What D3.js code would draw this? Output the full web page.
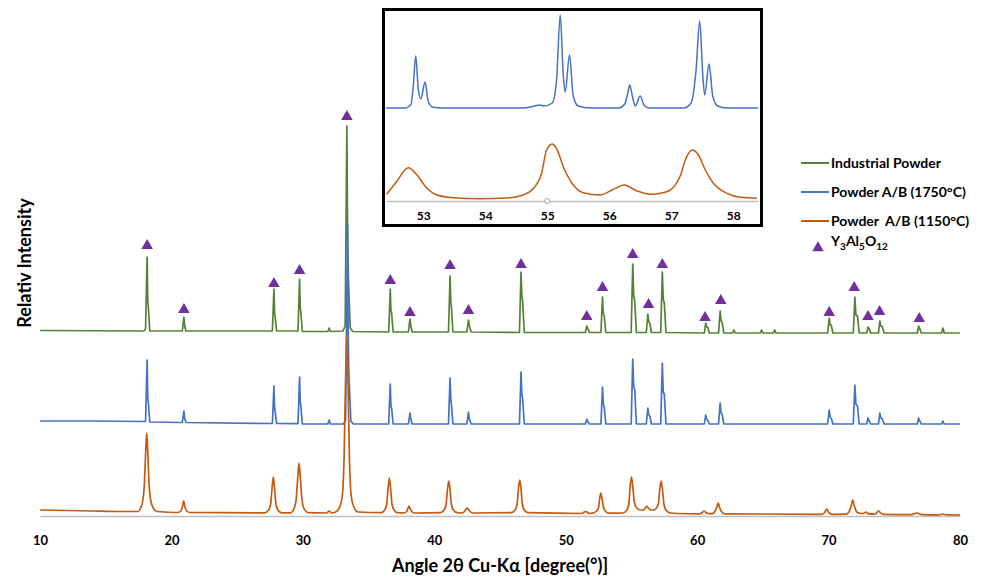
<!DOCTYPE html>
<html><head><meta charset="utf-8">
<script src="https://cdn.jsdelivr.net/npm/d3@7"></script>
<style>
body{margin:0;background:#fff;}
svg{display:block;font-family:Lato,"Open Sans",sans-serif;}
</style></head><body>
<svg id="c" width="989" height="581"></svg>
<script>
// ---------- data (2θ in degrees, relative intensity in arbitrary units) ----------
const xTickValues = [10, 20, 30, 40, 50, 60, 70, 80];
const insetTickValues = [53, 54, 55, 56, 57, 58];
const seriesNames = ["Industrial Powder", "Powder A/B (1750°C)", "Powder  A/B (1150°C)"];
const seriesColors = ["#548235", "#4472C4", "#C55A11"];
const seriesOffsets = [185, 92, 0];
const phaseName = ["Y", "3", "Al", "5", "O", "12"];
const phaseColor = "#7030A0";

const industrialPowder = [
 [10,0.5],[17.9,0],[18.03,2],[18.15,74],[18.2,30],[18.24,25],[18.35,0],
 [20.83,0],[20.95,14],[21.0,6],[21.1,0],
 [27.68,0],[27.8,42],[27.85,18],[27.88,16],[28.0,0],
 [29.63,0],[29.75,52],[29.8,22],[29.84,20],[29.96,-0.5],
 [31.9,-0.5],[32.0,3],[32.1,-0.5],
 [33.05,0],[33.22,5],[33.35,205],[33.4,100],[33.45,60],[33.6,3],[33.8,-0.5],
 [36.53,-1],[36.65,42],[36.7,20],[36.75,18],[36.87,-1],
 [38.03,-1],[38.15,12],[38.22,5],[38.32,-1],
 [41.08,-1],[41.2,55],[41.26,28],[41.3,25],[41.42,-1],
 [42.48,-1],[42.6,11],[42.67,5],[42.8,-1],
 [46.48,-1.5],[46.6,59],[46.66,35],[46.72,30],[46.85,-1.5],
 [51.5,-1.5],[51.6,5],[51.7,2],[51.8,-1.5],
 [52.68,-1.5],[52.8,34],[52.86,18],[52.93,15],[53.05,-1.5],
 [54.98,-1.5],[55.1,67],[55.17,36],[55.25,30],[55.38,-1.5],
 [56.13,-1.5],[56.25,17],[56.32,9],[56.4,8],[56.52,-1.5],
 [57.23,-1.5],[57.35,59],[57.42,32],[57.5,28],[57.63,-1.5],
 [60.55,-2],[60.65,8],[60.72,4],[60.8,4],[60.92,-2],
 [61.63,-2],[61.75,20],[61.82,10],[61.9,9],[62.03,-2],
 [62.7,-2],[62.8,1],[62.9,-2],
 [64.8,-2],[64.9,1],[65.0,-2],
 [65.8,-2],[65.9,1],[66.0,-2],
 [69.93,-2],[70.05,13],[70.12,6],[70.2,6],[70.33,-2],
 [71.88,-2],[72.0,34],[72.08,16],[72.2,15],[72.33,-2],
 [72.9,-2],[73.0,4],[73.1,2],[73.2,-2],
 [73.8,-2],[73.9,10],[73.97,5],[74.1,4],[74.22,-2],
 [76.75,-2],[76.85,5],[76.95,2],[77.05,-2],
 [78.6,-2],[78.7,3],[78.8,-2],
 [80,-2]
];

const powder1750 = [
 [10,3],[14,3],[17.9,2.5],[18.03,2.5],[18.15,64],[18.2,26],[18.24,22],[18.35,2],
 [20.83,1.5],[20.95,13],[21.0,6],[21.1,1.5],
 [27.68,0.5],[27.8,38],[27.85,16],[27.88,14],[28.0,0.5],
 [29.63,0.3],[29.75,47],[29.8,22],[29.84,19],[29.96,0],
 [31.9,0],[32.0,4],[32.1,0],
 [33.1,0],[33.25,4],[33.4,200],[33.45,90],[33.5,50],[33.65,3],[33.85,0],
 [36.53,0],[36.65,40],[36.7,18],[36.75,16],[36.87,0],
 [38.03,0],[38.15,11],[38.22,5],[38.32,0],
 [41.08,0],[41.2,46],[41.26,24],[41.3,20],[41.42,0],
 [42.48,0],[42.6,12],[42.67,5],[42.8,0],
 [46.48,0],[46.6,52],[46.66,30],[46.72,26],[46.85,0],
 [51.5,0],[51.6,5],[51.7,2],[51.8,0],
 [52.68,0],[52.8,37],[52.86,20],[52.93,17],[53.05,0],
 [54.98,0],[55.1,65],[55.17,38],[55.25,34],[55.38,0],
 [56.13,0],[56.25,16],[56.32,9],[56.4,8],[56.52,0],
 [57.23,0],[57.35,61],[57.42,32],[57.5,30],[57.63,0],
 [60.55,0],[60.65,9],[60.72,5],[60.8,4],[60.92,0],
 [61.63,0],[61.75,21],[61.82,11],[61.9,10],[62.03,0],
 [69.93,0],[70.05,14],[70.12,7],[70.2,6],[70.33,0],
 [71.88,0],[72.0,39],[72.08,20],[72.2,18],[72.33,0],
 [72.9,0],[73.0,6],[73.1,3],[73.2,0],
 [73.8,0],[73.9,11],[73.97,6],[74.1,5],[74.22,0],
 [76.75,0],[76.85,6],[76.95,3],[77.05,0],
 [78.6,0],[78.7,3],[78.8,0],
 [80,0]
];

const powder1150 = [
 [10,6],[12,5.5],[14,5],[16,4.5],[17.5,4.5],[17.65,8],[17.83,16],[17.95,34],[18.04,64],[18.12,83],[18.2,64],[18.29,34],[18.42,16],[18.62,8],[18.9,4.5],
 [20.5,3.5],[20.7,5],[20.83,9],[20.93,15],[21.03,9],[21.16,5],[21.4,3.5],
 [27.1,3.2],[27.4,6],[27.55,12],[27.65,27],[27.75,39],[27.85,27],[27.95,12],[28.1,6],[28.4,3.2],
 [29.05,3.2],[29.35,8],[29.5,18],[29.61,38],[29.71,53],[29.81,38],[29.92,18],[30.07,8],[30.4,3.3],
 [31.8,3],[32.0,5],[32.2,3],
 [32.5,4],[32.8,9],[33.0,20],[33.14,60],[33.24,130],[33.34,181],[33.44,130],[33.54,60],[33.68,20],[33.88,9],[34.2,4],
 [35.95,3.3],[36.23,6],[36.38,12],[36.48,27],[36.58,38],[36.68,27],[36.78,12],[36.93,6],[37.2,3.3],
 [37.7,3],[37.9,4.5],[37.98,7],[38.08,10],[38.18,7],[38.28,4.5],[38.5,3],
 [40.45,3.3],[40.75,6],[40.9,12],[41.0,26],[41.1,35],[41.2,26],[41.3,12],[41.45,6],[41.75,3.3],
 [42.1,3],[42.3,4.5],[42.4,6.5],[42.5,8],[42.6,6.5],[42.72,4.5],[42.95,3],
 [45.85,3.3],[46.15,6],[46.3,12],[46.4,27],[46.5,36],[46.6,27],[46.7,12],[46.85,6],[47.15,3.3],
 [51.2,2.5],[51.52,4.5],[51.8,2.5],
 [52.05,2.8],[52.35,5],[52.5,9],[52.58,17],[52.67,23],[52.77,17],[52.87,9],[53.02,5],[53.3,2.8],
 [54.35,3],[54.65,6],[54.8,12],[54.9,29],[55.0,39],[55.1,30],[55.22,14],[55.4,8],[55.7,6],
 [55.9,6],[56.05,8],[56.16,10],[56.28,8],[56.5,6],
 [56.7,6],[56.9,8],[57.05,12],[57.16,27],[57.26,35],[57.36,27],[57.46,13],[57.62,6],[57.95,3],[58.5,2.5],
 [60.2,2.2],[60.4,3.5],[60.52,5],[60.65,3.5],[60.9,2.3],
 [61.15,2.3],[61.35,4.5],[61.5,9],[61.6,13],[61.7,9],[61.85,4.5],[62.1,2.2],
 [69.45,1.7],[69.7,3.5],[69.86,7],[70.0,3.5],[70.3,1.7],
 [71.3,1.8],[71.55,4],[71.72,10],[71.84,16],[71.96,10],[72.15,4],[72.45,2.5],
 [72.65,2.5],[72.83,4],[73.0,2.3],
 [73.5,1.8],[73.65,3.2],[73.8,5],[73.95,3.2],[74.15,1.7],
 [76.3,1.3],[76.7,3],[77.1,1.3],
 [78.4,1.1],[78.7,2],[79.0,1.1],
 [80,1]
];

// Y3Al5O12 reflections: angle and marker level (same units as the stacked intensity scale)
const yagAngles = [18.15,20.95,27.8,29.75,33.35,36.65,38.15,41.2,42.6,46.6,51.6,52.8,55.1,56.3,57.35,60.6,61.8,70.05,71.95,73.0,73.88,76.9];
const yagLevels = [272,208,234,247,401,237,205,252,207,253,201,230,263,213,253,200,217,205,230,201,206,199];

// Inset (zoom 52.4° – 58.4°)
const insetBlue = [
 [52.4,93],[52.7,93],[52.8,96],[52.84,115],[52.88,145],[52.92,112],[52.96,102],[53.03,119],[53.08,100],[53.15,94],[53.3,93],
 [54.6,93],[54.8,95],[54.88,96],[54.95,95],[55.08,98],[55.15,120],[55.21,186],[55.26,125],[55.29,109],[55.36,146],[55.42,105],[55.5,95],[55.7,93],
 [56.15,93],[56.25,97],[56.3,108],[56.33,116],[56.38,103],[56.42,95],[56.5,105],[56.56,96],[56.65,93],
 [57.2,93],[57.32,98],[57.4,130],[57.46,180],[57.51,125],[57.54,106],[57.61,137],[57.67,105],[57.75,95],[57.9,93],[58.4,93]
];
const insetOrange = [
 [52.41,6.7],[52.57,19.3],[52.76,33.3],[52.9,26],[53.06,12.7],[53.22,6],[53.49,3.3],[53.92,2.3],[54.35,3],[54.61,6],
 [54.78,12.7],[54.91,27.7],[54.99,51],[55.08,57],[55.15,52.7],[55.26,34.3],[55.4,17.7],[55.58,8.3],[55.85,6],
 [56.07,11.7],[56.24,16],[56.44,10.3],[56.66,6.7],[56.93,9.3],[57.14,24.3],[57.25,44.3],[57.34,51],[57.44,46],
 [57.55,31],[57.68,17.7],[57.9,7.7],[58.11,3.7],[58.38,2.7]
];
const insetHandle = [55];

// ---------- drawing ----------
const svg = d3.select("#c");
const x = d3.scaleLinear().domain([10, 80]).range([40, 960]);
const y = d3.scaleLinear().domain([0, 400]).range([516, 116]);

// x axis
const xAxis = svg.append("g").attr("transform", "translate(0,516)")
  .call(d3.axisBottom(x).tickValues(xTickValues).tickFormat(d3.format("d")).tickSize(0).tickSizeOuter(0).tickPadding(20));
xAxis.select(".domain").attr("stroke", "#BFBFBF").attr("stroke-width", 1.5);
xAxis.selectAll("text").attr("font-size", 13).attr("font-weight", "bold").attr("fill", "#000")
  .attr("font-family", "Lato");

svg.append("text").attr("x", 500).attr("y", 572).attr("text-anchor", "middle")
  .attr("font-size", 18).attr("font-weight", "bold").text("Angle 2θ Cu-Kα [degree(°)]");
svg.append("text").attr("transform", "translate(31,263) rotate(-90)").attr("text-anchor", "middle")
  .attr("font-size", 18).attr("font-weight", "bold").text("Relativ Intensity");

const mainSeries = [industrialPowder, powder1750, powder1150];
mainSeries.forEach((data, i) => {
  const line = d3.line()
    .x(d => x(d[0]))
    .y(d => y(d[1] + seriesOffsets[i]))
    .curve(i === 2 ? d3.curveMonotoneX : d3.curveLinear);
  svg.append("path").datum(data).attr("d", line)
    .attr("fill", "none").attr("stroke", seriesColors[i])
    .attr("stroke-width", 1.7).attr("stroke-linejoin", "round");
});

// triangle markers
const tri = d3.symbol().type(d3.symbolTriangle).size(58);
svg.append("g").selectAll("path").data(yagAngles).join("path")
  .attr("d", tri)
  .attr("transform", (d, i) => `translate(${x(d)},${y(yagLevels[i]) + 1.7})`)
  .attr("fill", phaseColor);

// legend
const lg = svg.append("g");
seriesNames.forEach((name, i) => {
  const ly = 163 + i * 29;
  lg.append("line").attr("x1", 801).attr("x2", 829).attr("y1", ly).attr("y2", ly)
    .attr("stroke", seriesColors[i]).attr("stroke-width", 2);
  lg.append("text").attr("x", 831).attr("y", ly).attr("dy", "0.35em")
    .attr("font-size", 14).attr("font-weight", "bold").style("white-space", "pre").text(name);
});
lg.append("path").attr("d", tri).attr("transform", "translate(818,248)").attr("fill", phaseColor);
const pt = lg.append("text").attr("x", 831).attr("y", 246).attr("dy", "0.35em")
  .attr("font-size", 14).attr("font-weight", "bold");
phaseName.forEach((s, i) => {
  const sub = i % 2 === 1;
  pt.append("tspan").attr("font-size", sub ? 10 : 14)
    .attr("dy", sub ? 4 : (i === 0 ? 0 : -4)).text(s);
});

// inset
const ix = d3.scaleLinear().domain([52.4, 58.4]).range([386, 758]);
const iy = d3.scaleLinear().domain([0, 200]).range([201, 1]);
const inset = svg.append("g");
inset.append("rect").attr("x", 383.5).attr("y", 9.5).attr("width", 378).attr("height", 216)
  .attr("fill", "#fff").attr("stroke", "#000").attr("stroke-width", 3);
const iAxis = inset.append("g").attr("transform", "translate(0,201)")
  .call(d3.axisBottom(ix).tickValues(insetTickValues).tickFormat(d3.format("d")).tickSize(0).tickSizeOuter(0).tickPadding(10));
iAxis.select(".domain").attr("stroke", "#BFBFBF").attr("stroke-width", 1.5);
iAxis.selectAll("text").attr("font-size", 12).attr("font-weight", "bold").attr("fill", "#000")
  .attr("font-family", "Lato");
[insetBlue, insetOrange].forEach((data, k) => {
  const line = d3.line().x(d => ix(d[0])).y(d => iy(d[1])).curve(d3.curveMonotoneX);
  inset.append("path").datum(data).attr("d", line).attr("fill", "none")
    .attr("stroke", seriesColors[k + 1]).attr("stroke-width", 1.5);
});
inset.selectAll("circle").data(insetHandle).join("circle")
  .attr("cx", d => ix(d)).attr("cy", 201).attr("r", 2.5)
  .attr("fill", "#fff").attr("stroke", "#A6A6A6").attr("stroke-width", 1);
</script>
</body></html>
